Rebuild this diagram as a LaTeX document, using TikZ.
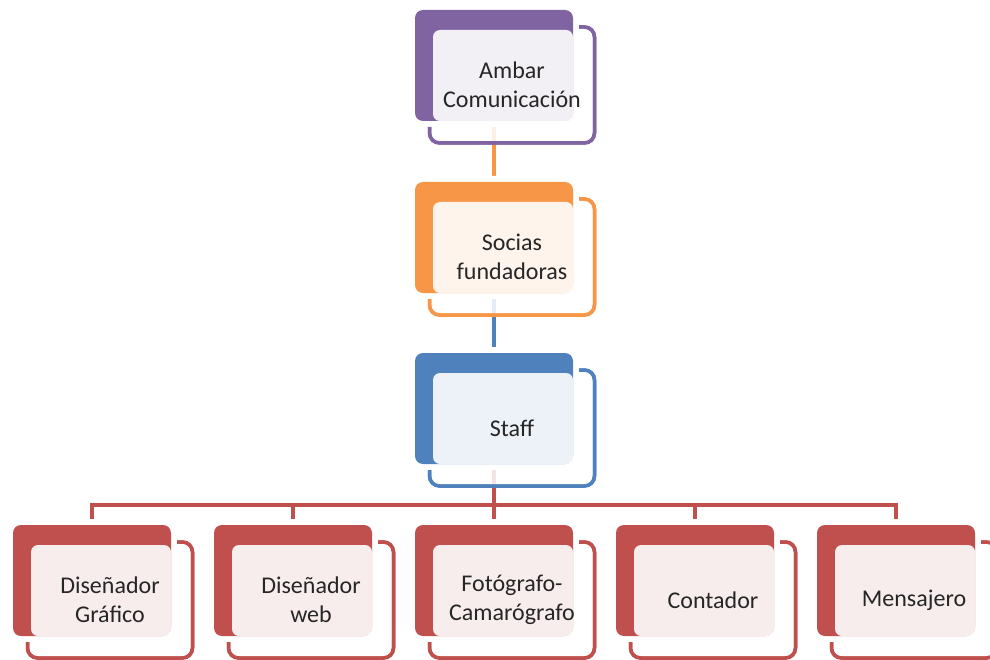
\documentclass[tikz,border=0pt]{standalone}
\usepackage{fontspec}
\setmainfont{Carlito}
\usetikzlibrary{calc}
\pgfdeclarelayer{links}
\pgfdeclarelayer{frames}
\pgfsetlayers{links,frames,main}
\definecolor{ambarpurple}{HTML}{8064A2}
\definecolor{ambarorange}{HTML}{F79646}
\definecolor{ambarblue}{HTML}{4F81BD}
\definecolor{ambarred}{HTML}{C0504D}
\tikzset{
  backbox/.style={rectangle, rounded corners=8pt, fill=#1, minimum width=158pt, minimum height=111pt,
    inner sep=0pt, outer sep=0pt},
  halo/.style={draw=white, line width=6pt, rounded corners=10pt},
  framebox/.style={rectangle, rounded corners=10pt, draw=#1, line width=3.5pt, fill=white,
    fill opacity=.85, minimum width=165pt, minimum height=116pt, inner sep=0pt, outer sep=0pt},
  edge/.style={draw=#1, line width=3.5pt, rounded corners=10pt},
  veil/.style={fill=white, fill opacity=.9, rounded corners=7pt},
  lbl/.style={align=center, font=\fontsize{24}{29}\selectfont, text=black!85, inner sep=0pt},
  link/.style={draw=#1, line width=3.5pt},
}
% one box of the chart: name, left, top, colour, text
\newcommand\orgunit[5]{%
  \node[backbox=#4] (#1) at (#2+79,#3+55.5) {};
  \fill[veil] ($(#1.north west)+(18,20)$) rectangle (#1.south east);
  \node[lbl] (#1t) at (#2+97,#3+75) {#5};
  \begin{pgfonlayer}{frames}
    \node[framebox=#4] (#1f) at (#1t) {};
    \draw[halo] ($(#1.north west)+(-3,-3)$) rectangle ($(#1.south east)+(3,3)$);
  \end{pgfonlayer}
  % outline again, outside the halo
  \begin{scope}[even odd rule]
    \clip ($(#1f.north west)+(-5,-5)$) rectangle ($(#1f.south east)+(5,5)$)
      ($(#1.north west)+(-6,-6)$) rectangle ($(#1.south east)+(6,6)$);
    \draw[edge=#4] (#1f.north west) rectangle (#1f.south east);
  \end{scope}
}

\begin{document}
\begin{tikzpicture}[x=1pt,y=-1pt]
    \useasboundingbox (0,0) rectangle (990,660);

    % top of the chart
    \orgunit{ambar}{415}{10}{ambarpurple}{Ambar\\Comunicación}
    \orgunit{socias}{415}{182}{ambarorange}{Socias\\fundadoras}
    \orgunit{staff}{415}{353}{ambarblue}{Staff}

    % staff members
    \foreach \n/\x/\t in {dg/13/{Diseñador\\Gráfico}, dw/214/{Diseñador\\web},
        fc/415/{Fotógrafo-\\Camarógrafo}, ct/616/{Contador}, ms/817/{Mensajero}} {
        \orgunit{\n}{\x}{525}{ambarred}{\t}
    }

    % connectors
    \coordinate (bus) at (0,505);
    \begin{pgfonlayer}{links}
        \draw[link=ambarorange] (ambar.south) -- (socias.north);
        \draw[link=ambarblue] (socias.south) -- (staff.north);
        \foreach \n in {dg,dw,fc,ct,ms} {
            \draw[link=ambarred] (staff.south) -- (staff.south |- bus) -| (\n.north);
        }
    \end{pgfonlayer}
\end{tikzpicture}
\end{document}
